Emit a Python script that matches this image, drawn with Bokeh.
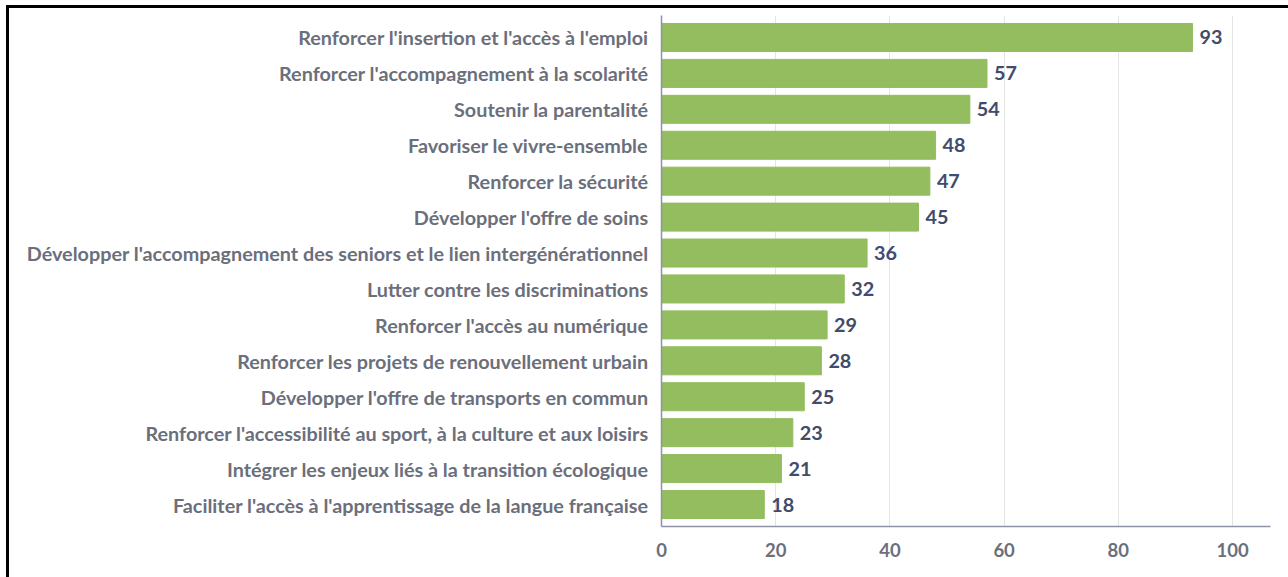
from bokeh.plotting import figure
from bokeh.layouts import column
from bokeh.models import ColumnDataSource, FactorRange, FixedTicker
from bokeh.core.properties import value
from bokeh.embed import file_html
from bokeh.resources import INLINE

categories = [
    "Renforcer l'insertion et l'accès à l'emploi",
    "Renforcer l'accompagnement à la scolarité",
    "Soutenir la parentalité",
    "Favoriser le vivre-ensemble",
    "Renforcer la sécurité",
    "Développer l'offre de soins",
    "Développer l'accompagnement des seniors et le lien intergénérationnel",
    "Lutter contre les discriminations",
    "Renforcer l'accès au numérique",
    "Renforcer les projets de renouvellement urbain",
    "Développer l'offre de transports en commun",
    "Renforcer l'accessibilité au sport, à la culture et aux loisirs",
    "Intégrer les enjeux liés à la transition écologique",
    "Faciliter l'accès à l'apprentissage de la langue française",
]
values = [93, 57, 54, 48, 47, 45, 36, 32, 29, 28, 25, 23, 21, 18]
x_ticks = [0, 20, 40, 60, 80, 100]

BAR = "#93bd5e"
LABEL = "#6b6f7c"
VALUE = "#414b6b"
FONT = "Lato"

src = ColumnDataSource(dict(cat=categories, val=values, txt=[str(v) for v in values]))

p = figure(
    width=1279, height=569,
    y_range=FactorRange(factors=list(reversed(categories)), range_padding=0.016),
    x_range=(0, 106.65),
    output_backend="svg", toolbar_location=None,
    min_border_left=652, min_border_right=18, min_border_top=7, min_border_bottom=51,
)
p.outline_line_color = None
p.background_fill_color = "white"
p.border_fill_color = "white"

p.hbar(y="cat", right="val", height=0.78, source=src, fill_color=BAR, line_color=BAR)
p.text(x="val", y="cat", text="txt", source=src, x_offset=7, text_baseline="middle",
       text_align="left", text_font=value(FONT), text_font_style="bold",
       text_font_size="19.8px", text_color=VALUE)

p.ygrid.grid_line_color = None
p.xgrid.grid_line_color = "#e4e4e4"
p.xgrid.ticker = FixedTicker(ticks=x_ticks)

xa = p.xaxis[0]
xa.ticker = FixedTicker(ticks=x_ticks)
xa.axis_line_color = "#8e93a6"
xa.axis_line_width = 1.5
xa.major_tick_line_color = None
xa.minor_tick_line_color = None
xa.major_tick_out = 0
xa.major_label_standoff = 16
xa.major_label_text_font = FONT
xa.major_label_text_font_style = "bold"
xa.major_label_text_font_size = "18.5px"
xa.major_label_text_color = LABEL

ya = p.yaxis[0]
ya.axis_line_color = "#8e93a6"
ya.axis_line_width = 1.5
ya.major_tick_line_color = None
ya.minor_tick_line_color = None
ya.major_tick_out = 0
ya.major_label_standoff = 13
ya.major_label_text_font = FONT
ya.major_label_text_font_style = "bold"
ya.major_label_text_font_size = "19.8px"
ya.major_label_text_color = LABEL

layout = column(p, margin=(5, 0, 0, 6),
                styles={"border-left": "3px solid black", "border-top": "3px solid black"})

open("out.html", "w").write(file_html(layout, INLINE))
